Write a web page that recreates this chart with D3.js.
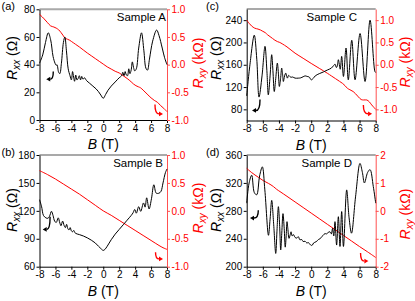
<!DOCTYPE html>
<html><head><meta charset="utf-8">
<script src="https://cdn.jsdelivr.net/npm/d3@7"></script>
<style>body{margin:0;background:#fff} svg{display:block;font-family:"Liberation Sans",Arial,sans-serif}</style>
</head><body><svg id="c" width="415" height="301"></svg>
<script>
// ---------- data ----------
const fieldTicks = [-8,-6,-4,-2,0,2,4,6,8];
const panelLabels = ["(a)","(b)","(c)","(d)"];
const sampleNames = ["Sample A","Sample B","Sample C","Sample D"];

const rxxDomA = [0,80],   rxxTicksA = [0,20,40,60,80];
const rxxDomB = [60,180], rxxTicksB = [60,90,120,150,180];
const rxxDomC = [60,260], rxxTicksC = [80,120,160,200,240];
const rxxDomD = [200,360],rxxTicksD = [200,240,280,320,360];
const rxyDomA = [-1,1], rxyTicksA = [-1,-0.5,0,0.5,1];
const rxyDomB = [-1,1], rxyTicksB = [-1,-0.5,0,0.5,1];
const rxyDomC = [-1.25,1.25], rxyTicksC = [-1,-0.5,0,0.5,1];
const rxyDomD = [-2,2], rxyTicksD = [-2,-1,0,1,2];

// [B (T), Rxx (Ohm)]
const rxxA = [[-8,41],[-7.6,47],[-7.25,56],[-6.9,63],[-6.6,58],[-6.3,46],[-6.05,41],[-5.9,39.5],[-5.8,40],[-5.6,34.5],[-5.45,33.5],[-5.25,41],[-5.0,56],[-4.82,60],[-4.62,50],[-4.4,37],[-4.17,32],[-4.0,29],[-3.85,35],[-3.72,31],[-3.6,28],[-3.45,32.5],[-3.3,29],[-3.15,30],[-3.0,32],[-2.85,29],[-2.7,31.5],[-2.55,29.5],[-2.35,30.5],[-2.1,28.5],[-1.7,26.5],[-1.3,24.5],[-0.9,22.5],[-0.6,20.5],[-0.3,18],[0.0,15.7],[0.3,18.5],[0.6,21.5],[1.0,24.5],[1.5,27.5],[2.0,30.5],[2.3,32],[2.45,34.5],[2.6,32],[2.75,35],[2.9,32.5],[3.05,32],[3.2,37],[3.35,33.5],[3.5,36],[3.65,42],[3.8,38],[3.95,35.5],[4.15,37],[4.45,52],[4.8,63],[5.1,50],[5.35,37.5],[5.55,36],[5.8,44],[6.2,57],[6.7,65],[7.0,61],[7.4,52],[7.7,45],[8.0,40]];
const rxxB = [[-8,132],[-7.75,125],[-7.5,115],[-7.2,112.5],[-6.95,112],[-6.75,114],[-6.5,119.5],[-6.3,115],[-6.1,109],[-5.9,107.5],[-5.65,112.5],[-5.45,107],[-5.3,104],[-5.1,109],[-4.9,104],[-4.75,102],[-4.6,105.5],[-4.45,101],[-4.3,99.5],[-4.15,102],[-4.0,98.5],[-3.85,97.5],[-3.7,99],[-3.5,96],[-3.0,94.5],[-2.5,93],[-2.0,91],[-1.5,88.5],[-1.0,85.5],[-0.6,82],[-0.3,79.5],[0.0,77.5],[0.2,78.5],[0.5,82],[1.0,89],[1.5,95],[2.0,100],[2.5,105],[3.0,110],[3.5,115],[3.75,118],[3.95,121.5],[4.15,117.5],[4.45,124.5],[4.7,119.5],[5.05,128.5],[5.25,124],[5.45,134],[5.75,122],[6.05,133],[6.35,148],[6.65,139],[7.0,139],[7.25,141],[7.5,150],[7.8,161],[8.0,165]];
const rxxC = [[-8,104],[-7.6,160],[-7.06,213],[-6.75,170],[-6.47,102],[-6.1,140],[-5.73,193],[-5.5,150],[-5.32,106],[-5.1,140],[-4.9,178],[-4.75,150],[-4.58,112],[-4.4,135],[-4.2,163],[-4.07,145],[-3.95,121],[-3.8,135],[-3.66,154],[-3.55,143],[-3.45,130],[-3.3,140],[-3.16,145],[-3.05,140],[-2.95,136],[-2.8,141],[-2.65,139],[-2.5,137.5],[-2.3,138],[-2.0,136],[-1.6,136],[-1.3,136.5],[-1.0,138.5],[-0.75,140],[-0.5,139],[-0.25,138],[0.0,133],[0.25,135.5],[0.5,140],[1.0,144],[1.5,147],[2.0,150.5],[2.5,154],[2.75,158],[2.96,161],[3.12,155],[3.22,157],[3.37,169],[3.6,152],[3.78,175],[4.0,139],[4.32,190],[4.6,133],[5.03,204],[5.44,133],[6.06,216],[6.68,130],[7.3,240],[7.9,148],[8.0,146]];
const rxxD = [[-8,291],[-7.7,320],[-7.38,331],[-7.05,306],[-6.76,303],[-6.4,330],[-6.06,343],[-5.75,310],[-5.3,245],[-5.1,268],[-4.9,295],[-4.65,260],[-4.4,219],[-4.25,250],[-4.07,286],[-3.92,260],[-3.78,224],[-3.65,248],[-3.5,276],[-3.35,255],[-3.22,228],[-3.1,245],[-3.0,264.5],[-2.9,255],[-2.75,240.6],[-2.6,246],[-2.5,250],[-2.35,244],[-2.2,246],[-2.0,242],[-1.8,241],[-1.6,243],[-1.4,238.5],[-1.18,239],[-1.0,236],[-0.77,236.5],[-0.55,234],[-0.35,234.5],[-0.15,232],[0.0,230.5],[0.15,231],[0.3,234],[0.47,235],[0.7,236.5],[0.9,239],[1.1,240],[1.3,243],[1.5,245],[1.7,247.5],[1.9,247],[2.1,249],[2.33,250],[2.5,247],[2.65,255],[2.8,244],[2.95,264.5],[3.15,231],[3.37,271.6],[3.57,229],[3.78,279],[4.0,229],[4.4,310],[4.7,270],[5.0,248],[5.5,300],[6.05,348],[6.35,335],[6.6,320],[7.0,335],[7.3,339],[7.7,315],[8.0,291]];

// [B (T), Rxy (kOhm)]
const rxyA = [[-8,0.91],[-7.5,0.84],[-7.0,0.76],[-6.6,0.70],[-6.2,0.68],[-5.9,0.66],[-5.6,0.63],[-5.3,0.58],[-5.0,0.52],[-4.8,0.48],[-4.5,0.46],[-4.2,0.44],[-4.0,0.42],[-3.5,0.37],[-3.0,0.32],[-2.5,0.265],[-2.0,0.21],[-1.5,0.16],[-1.0,0.11],[-0.5,0.06],[0.0,0.01],[0.5,-0.04],[1.0,-0.08],[1.5,-0.12],[2.0,-0.15],[2.5,-0.2],[3.0,-0.25],[3.5,-0.31],[3.8,-0.35],[4.1,-0.38],[4.4,-0.40],[4.7,-0.42],[5.0,-0.46],[5.5,-0.53],[6.0,-0.60],[6.4,-0.645],[6.8,-0.68],[7.2,-0.74],[7.6,-0.79],[8.0,-0.85]];
const rxyB = [[-8,0.72],[-7,0.65],[-6,0.57],[-5,0.48],[-4,0.39],[-3,0.3],[-2,0.2],[-1,0.1],[0,0.0],[1,-0.08],[2,-0.17],[3,-0.26],[4,-0.35],[5,-0.44],[6,-0.53],[7,-0.62],[7.5,-0.66],[8,-0.69]];
const rxyC = [[-8,1.0],[-7.7,0.93],[-7.4,0.87],[-7.0,0.82],[-6.6,0.80],[-6.3,0.78],[-6.0,0.75],[-5.7,0.72],[-5.4,0.67],[-5.1,0.63],[-4.8,0.59],[-4.5,0.55],[-4.2,0.52],[-3.9,0.50],[-3.6,0.47],[-3.0,0.40],[-2.5,0.33],[-2.0,0.26],[-1.0,0.145],[0.0,0.03],[1.0,-0.08],[2.0,-0.19],[2.5,-0.25],[3.0,-0.31],[3.5,-0.37],[3.9,-0.42],[4.2,-0.47],[4.5,-0.53],[4.8,-0.56],[5.2,-0.60],[5.5,-0.65],[5.85,-0.72],[6.2,-0.78],[6.5,-0.79],[6.9,-0.79],[7.2,-0.83],[7.5,-0.90],[8.0,-1.0]];
const rxyD = [[-8,1.52],[-7.38,1.37],[-6.55,1.2],[-5.93,1.08],[-5.31,0.985],[-4.69,0.87],[-4.28,0.77],[-3.87,0.69],[-3,0.52],[-2,0.32],[-1,0.12],[0,-0.08],[1,-0.28],[2,-0.48],[3,-0.68],[4,-0.88],[5,-1.08],[6,-1.28],[7,-1.47],[8,-1.67]];

// hook arrows, in data units: [start, end] (black on Rxx axis, red on Rxy axis)
const blackArrows = [[[-6.27,35],[-7.15,29.5]], [[-6.67,113.6],[-7.6,100]], [[-6.35,97.8],[-7.34,78]], [[-6.56,281],[-7.59,269.7]]];
const redArrows = [[[6.49,-0.72],[7.5,-0.89]], [[6.56,-0.74],[7.5,-0.86]], [[6.47,-0.90],[7.55,-1.1]], [[6.12,-1.51],[7.09,-1.8]]];

// ---------- layout ----------
const layout = [
  {x0:39.5, x1:167,   y0:9.3, y1:120,   rxx:rxxA, rxy:rxyA, ld:rxxDomA, lt:rxxTicksA, rd:rxyDomA, rt:rxyTicksA, rf:".1f", lx:17,  rx:203, ly:58,  ry:63,  sx:166, sy:21},
  {x0:39.5, x1:167,   y0:155, y1:266.7, rxx:rxxB, rxy:rxyB, ld:rxxDomB, lt:rxxTicksB, rd:rxyDomB, rt:rxyTicksB, rf:".1f", lx:17,  rx:203, ly:210, ry:208, sx:163, sy:167},
  {x0:246.7,x1:375.7, y0:9,   y1:120.5, rxx:rxxC, rxy:rxyC, ld:rxxDomC, lt:rxxTicksC, rd:rxyDomC, rt:rxyTicksC, rf:".1f", lx:221, rx:410, ly:58,  ry:62,  sx:357, sy:21},
  {x0:246.7,x1:375.7, y0:155, y1:266.7, rxx:rxxD, rxy:rxyD, ld:rxxDomD, lt:rxxTicksD, rd:rxyDomD, rt:rxyTicksD, rf:"d",   lx:221, rx:410, ly:210, ry:214, sx:352, sy:167}
];
const panelPos = [[1.5,9.5],[1.5,155.5],[206,9.5],[206,155.5]];

const svg = d3.select("#c");
const RED = "#ff0000";
const fixMinus = s => s.replace("\u2212","-");

layout.forEach((p,i) => {
  const x = d3.scaleLinear().domain([-8,8]).range([p.x0,p.x1]);
  const yl = d3.scaleLinear().domain(p.ld).range([p.y1,p.y0]);
  const yr = d3.scaleLinear().domain(p.rd).range([p.y1,p.y0]);
  const g = svg.append("g");

  // top frame
  g.append("line").attr("x1",p.x0).attr("x2",p.x1).attr("y1",p.y0).attr("y2",p.y0)
    .attr("stroke","#a9a9a9").attr("stroke-width",2);

  // bottom axis
  const ax = g.append("g").attr("transform",`translate(0,${p.y1})`)
    .call(d3.axisBottom(x).tickValues(fieldTicks).tickSize(3).tickSizeOuter(0).tickPadding(1.5).tickFormat(d=>fixMinus(d3.format("d")(d))));
  // left axis
  const al = g.append("g").attr("transform",`translate(${p.x0},0)`)
    .call(d3.axisLeft(yl).tickValues(p.lt).tickSize(3).tickSizeOuter(0).tickPadding(1.5));
  // right axis
  const ar = g.append("g").attr("transform",`translate(${p.x1},0)`)
    .call(d3.axisRight(yr).tickValues(p.rt).tickSize(3).tickSizeOuter(0).tickPadding(1.5).tickFormat(d=>fixMinus(d3.format(p.rf)(d))));
  [ax,al,ar].forEach(a => a.selectAll("text").attr("font-size",10).attr("font-family","Liberation Sans, Arial, sans-serif"));
  ax.selectAll("path,line").attr("stroke","#000");
  al.selectAll("path,line").attr("stroke","#000");
  ar.selectAll("path,line").attr("stroke","#ff5050");
  ar.selectAll("text").attr("fill",RED);

  // data lines
  const line = (ys) => d3.line().x(d=>x(d[0])).y(d=>ys(d[1])).curve(d3.curveCatmullRom.alpha(0.5));
  g.append("path").attr("d",line(yr)(p.rxy)).attr("fill","none").attr("stroke",RED).attr("stroke-width",1);
  g.append("path").attr("d",line(yl)(p.rxx)).attr("fill","none").attr("stroke","#000").attr("stroke-width",1);

  // hook arrows
  const hook = (arr, ys, col, dir) => {
    const [s,e] = arr;
    const sx = x(s[0]), sy = ys(s[1]), ex = x(e[0]), ey = ys(e[1]);
    const bx = ex - dir*4;
    g.append("path").attr("d",`M${sx},${sy} Q${sx},${ey} ${bx},${ey}`)
      .attr("fill","none").attr("stroke",col).attr("stroke-width",1.4);
    g.append("path").attr("d",`M${ex},${ey} L${bx},${ey-2.4} L${bx},${ey+2.4} Z`).attr("fill",col);
  };
  hook(blackArrows[i], yl, "#000", -1);
  hook(redArrows[i], yr, RED, 1);

  // sample label
  g.append("text").attr("x",p.sx).attr("y",p.sy).attr("text-anchor","end")
    .attr("font-size",11.5).text(sampleNames[i]);

  // panel label
  svg.append("text").attr("x",panelPos[i][0]).attr("y",panelPos[i][1]).attr("font-size",11).text(panelLabels[i]);

  // left label
  const tl = g.append("text").attr("transform",`translate(${p.lx},${p.ly}) rotate(-90)`)
    .attr("text-anchor","middle").attr("font-size",14);
  tl.append("tspan").attr("font-style","italic").text("R");
  tl.append("tspan").attr("font-style","italic").attr("font-size",10).attr("dy",3).text("xx");
  tl.append("tspan").attr("dy",-3).text(" (\u03A9)");

  // right label
  const tr = g.append("text").attr("transform",`translate(${p.rx},${p.ry}) rotate(-90)`)
    .attr("text-anchor","middle").attr("font-size",14).attr("fill",RED);
  tr.append("tspan").attr("font-style","italic").text("R");
  tr.append("tspan").attr("font-style","italic").attr("font-size",10).attr("dy",3).text("xy");
  tr.append("tspan").attr("dy",-3).text(" (k\u03A9)");

  // bottom label
  const tb = g.append("text").attr("x",(p.x0+p.x1)/2).attr("y",p.y1+29).attr("text-anchor","middle").attr("font-size",14);
  tb.append("tspan").attr("font-style","italic").text("B");
  tb.append("tspan").text(" (T)");
});
</script></body></html>
